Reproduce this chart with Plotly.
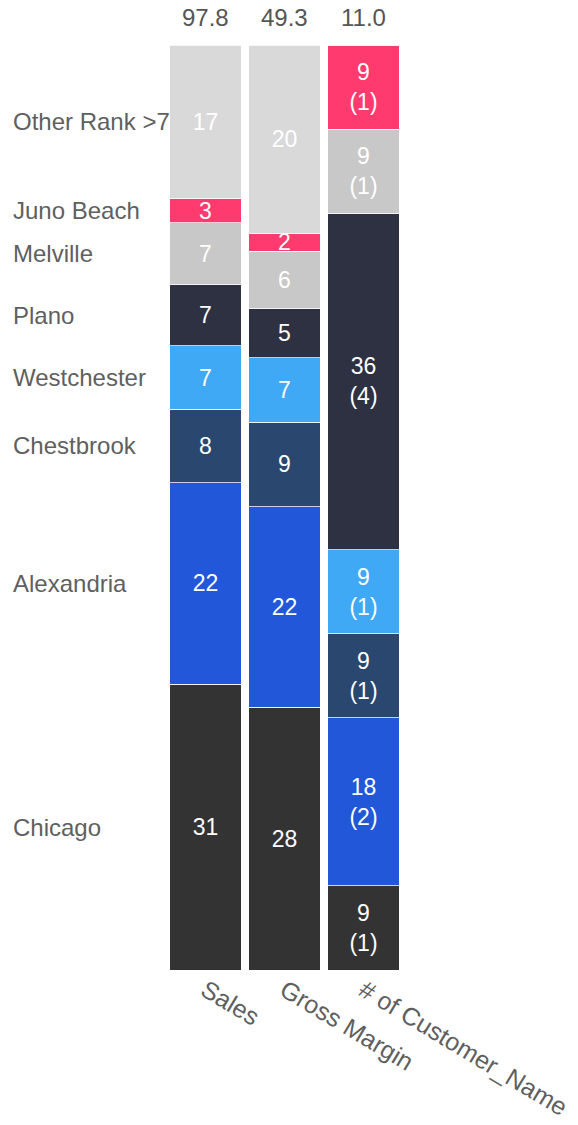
import plotly.graph_objects as go

# Metrics shown as 100% stacked columns
metrics = ["Sales", "Gross Margin", "# of Customer_Name"]
metric_totals = [97.8, 49.3, 11.0]

# Locations, bottom of the stack first
locations = ["Chicago", "Alexandria", "Chestbrook", "Westchester",
             "Plano", "Melville", "Juno Beach", "Other Rank >7"]

# Share of each metric by location (percent)
sales_share = [30.9, 21.8, 7.9, 6.9, 6.6, 6.7, 2.6, 16.6]
margin_share = [28.4, 21.7, 9.1, 7.0, 5.3, 6.2, 1.9, 20.4]
# Distinct customers per location
customer_count = [1, 2, 1, 1, 4, 1, 1, 0]

colors = ["#333333", "#2157d8", "#29476f", "#3fa9f5",
          "#2e3142", "#c8c8c8", "#ff3a6e", "#d9d9d9"]

FONT = "Liberation Sans, Arial, sans-serif"
customer_total = sum(customer_count)

fig = go.Figure()
for i, loc in enumerate(locations):
    cust_pct = customer_count[i] / customer_total * 100
    values = [sales_share[i], margin_share[i], cust_pct]
    texts = [f"{round(sales_share[i])}", f"{round(margin_share[i])}",
             f"{round(cust_pct)}<br>({customer_count[i]})" if customer_count[i] else ""]
    fig.add_trace(go.Bar(
        name=loc,
        x=metrics,
        y=values,
        text=texts,
        textposition="inside",
        insidetextanchor="middle",
        textangle=0,
        constraintext="none",
        textfont=dict(family=FONT, size=23, color="white"),
        marker=dict(color=colors[i], line=dict(color="rgba(255,255,255,0.75)", width=1)),
        hoverinfo="skip",
    ))

# Location names beside the Sales column, centred on each Sales segment
cum = 0
for loc, s in zip(locations, sales_share):
    mid = cum + s / 2
    cum += s
    fig.add_annotation(
        x=-0.654, xref="paper", xanchor="left",
        y=mid / sum(sales_share) * 100, yref="y", yanchor="middle",
        text=loc, showarrow=False,
        font=dict(family=FONT, size=24, color="#5f5f5f"),
    )

# Column totals above the bars
for m, t in zip(metrics, metric_totals):
    fig.add_annotation(
        x=m, xref="x", y=1, yref="paper", yanchor="bottom", yshift=12,
        text=f"{t:.1f}", showarrow=False,
        font=dict(family=FONT, size=24, color="#555555"),
    )

fig.update_layout(
    width=578, height=1125,
    barmode="stack", barnorm="percent", bargap=0.1,
    showlegend=False,
    plot_bgcolor="white", paper_bgcolor="white",
    margin=dict(l=166, r=175, t=45, b=155, autoexpand=False),
    uniformtext=dict(minsize=23, mode="show"),
    xaxis=dict(tickangle=31, tickfont=dict(family=FONT, size=25, color="#5f5f5f"),
               showline=False, showgrid=False, ticks="", range=[-0.5, 2.5],
               automargin=False),
    yaxis=dict(visible=False, range=[0, 100], showgrid=False, automargin=False),
)

fig.write_html("out.html")
